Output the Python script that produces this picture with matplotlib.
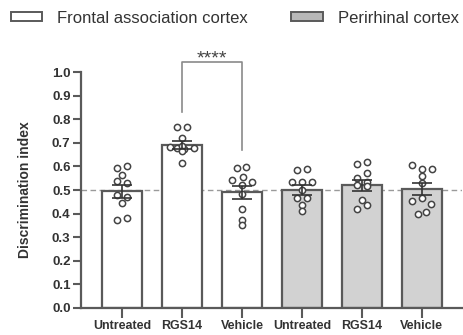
import numpy as np
import matplotlib.pyplot as plt
from matplotlib.patches import Patch

plt.rcParams['font.family'] = ['Liberation Sans', 'DejaVu Sans']

labels = ["Untreated", "RGS14", "Vehicle", "Untreated", "RGS14", "Vehicle"]
regions = ["Frontal association cortex", "Perirhinal cortex"]
means = [0.495, 0.69, 0.49, 0.50, 0.52, 0.505]
sems = [0.027, 0.018, 0.027, 0.02, 0.023, 0.025]
points = [
    [0.593, 0.603, 0.564, 0.540, 0.528, 0.479, 0.469, 0.446, 0.373, 0.383],
    [0.765, 0.765, 0.719, 0.684, 0.680, 0.672, 0.685, 0.665, 0.680, 0.613],
    [0.592, 0.599, 0.556, 0.542, 0.521, 0.535, 0.482, 0.420, 0.373, 0.352],
    [0.585, 0.590, 0.533, 0.533, 0.533, 0.500, 0.467, 0.467, 0.436, 0.410],
    [0.610, 0.620, 0.570, 0.550, 0.535, 0.520, 0.458, 0.436, 0.420, 0.515],
    [0.606, 0.590, 0.590, 0.560, 0.528, 0.467, 0.453, 0.440, 0.405, 0.397],
]
# horizontal jitter offsets (in bar-width units)
jitter = [
    [-0.25, 0.25, 0.0, -0.25, 0.25, -0.25, 0.25, 0.0, -0.25, 0.25],
    [-0.25, 0.25, 0.0, -0.6, -0.25, 0.1, 0.0, 0.0, 0.6, 0.0],
    [-0.25, 0.2, 0.05, -0.5, 0.0, 0.5, 0.0, 0.0, 0.0, 0.0],
    [-0.25, 0.25, -0.5, 0.0, 0.5, 0.0, -0.25, 0.25, 0.0, 0.0],
    [-0.25, 0.25, 0.25, -0.25, 0.25, -0.25, 0.0, 0.25, -0.25, 0.25],
    [-0.5, 0.0, 0.5, 0.0, 0.0, 0.0, -0.5, 0.45, 0.2, -0.2],
]
fills = ["white", "white", "white", "#d2d2d2", "#d2d2d2", "#d2d2d2"]

fig = plt.figure(figsize=(4.64, 3.35), dpi=100)
ax = fig.add_axes([0.1746, 0.0806, 0.8211, 0.7044])

x = np.arange(len(labels))
width = 0.67
edge = "#5a5a5a"

ax.axhline(0.5, color="#9a9a9a", lw=1.0, ls=(0, (4, 2.5)), zorder=0)
ax.bar(x, means, width=width, color=fills, edgecolor=edge, linewidth=1.6, zorder=1)

for i in range(len(labels)):
    xs = x[i] + np.array(jitter[i]) * 0.33
    ax.plot(xs, points[i], "o", ms=4.5, mfc="white", mec="#444444", mew=1.1,
            zorder=3, clip_on=False)

ax.errorbar(x, means, yerr=sems, fmt="none", ecolor="#333333", elinewidth=1.2,
            capsize=7, capthick=1.2, zorder=4)

# significance bracket
bx = [1, 1, 2, 2]
by = [0.832, 1.044, 1.044, 0.67]
ax.plot(bx, by, color="#8a8a8a", lw=1.2, clip_on=False, zorder=2)
ax.text(1.5, 1.02, "****", ha="center", va="bottom", fontsize=14,
        color="#444444", clip_on=False)

ax.set_xlim(-0.683, 5.67)
ax.set_ylim(0, 1.0)
ax.set_yticks(np.arange(0, 1.01, 0.1))
ax.set_yticklabels([f"{v:.1f}" for v in np.arange(0, 1.01, 0.1)])
ax.set_xticks(x)
ax.set_xticklabels(labels)
for lab in ax.get_xticklabels() + ax.get_yticklabels():
    lab.set_fontweight("bold")
    lab.set_color("#333333")
ax.tick_params(axis="y", length=6, width=1.5, color=edge, labelsize=9.5, pad=1.5)
ax.tick_params(axis="x", length=7, width=1.5, color=edge, labelsize=9, pad=2)
ax.set_ylabel("Discrimination index", fontsize=10, fontweight="bold",
              color="#333333")
ax.yaxis.set_label_coords(-0.128, 0.5)

for s in ["top", "right"]:
    ax.spines[s].set_visible(False)
for s in ["left", "bottom"]:
    ax.spines[s].set_color(edge)
    ax.spines[s].set_linewidth(1.6)

handles = [Patch(facecolor=f, edgecolor=edge, linewidth=1.4) for f in ["white", "#b8b8b8"]]
fig.legend(handles, regions, loc="center left", bbox_to_anchor=(0.005, 0.946),
           ncol=2, frameon=False, fontsize=12, handlelength=1.9, handleheight=0.5,
           handletextpad=0.9, columnspacing=2.6, borderpad=0, labelcolor="#333333")

plt.savefig("out.png", dpi=100)
